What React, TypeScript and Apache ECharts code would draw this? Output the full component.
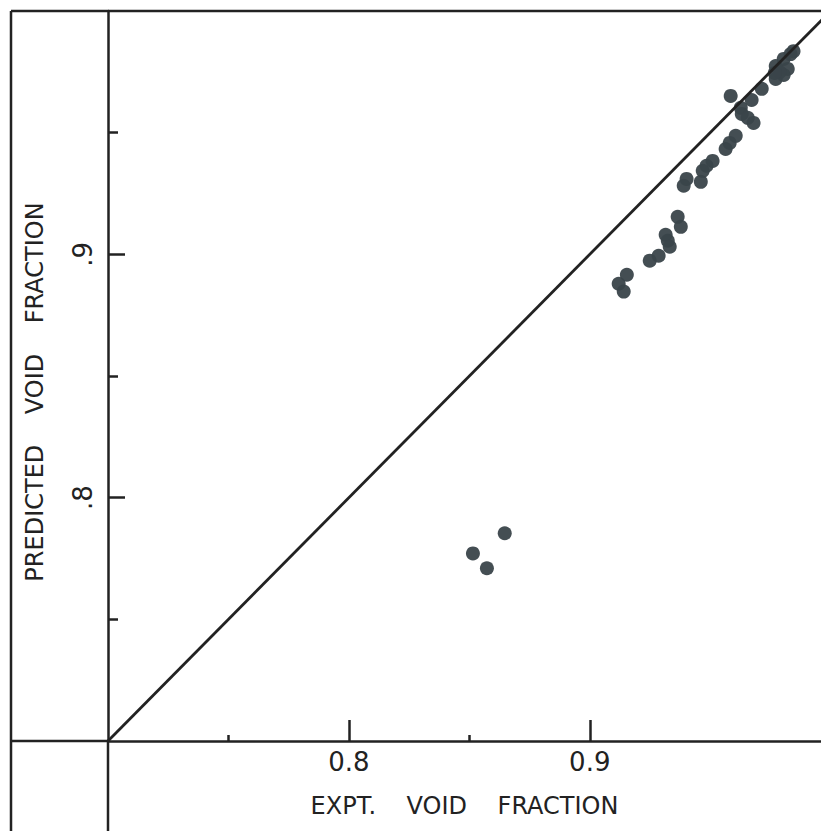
import React, { useEffect, useRef } from "react";
import * as echarts from "echarts";

// Experimental void fraction (x) vs predicted void fraction (y)
const exptVoid = [
  0.912, 0.9141, 0.9154, 0.9249, 0.9286, 0.9315, 0.9324, 0.9332, 0.9365, 0.9378,
  0.939, 0.9402, 0.9461, 0.9469, 0.9485, 0.951, 0.9564, 0.9581, 0.9606, 0.9585,
  0.9627, 0.9631, 0.9656, 0.968, 0.9672, 0.9714, 0.9772, 0.9805, 0.9834, 0.9822,
  0.9772, 0.9805, 0.9788, 0.9846, 0.9768, 0.8515, 0.8573, 0.8647,
];
const predictedVoid = [
  0.8879, 0.8847, 0.8916, 0.8974, 0.8994, 0.908, 0.9056, 0.9031, 0.9154, 0.9113,
  0.9282, 0.931, 0.9298, 0.9343, 0.9364, 0.9384, 0.9433, 0.9458, 0.9487, 0.9651,
  0.9602, 0.9577, 0.9561, 0.954, 0.9634, 0.968, 0.9774, 0.9803, 0.9823, 0.9762,
  0.9721, 0.9737, 0.9749, 0.9835, 0.9745, 0.7771, 0.771, 0.7854,
];
// Line of perfect agreement
const parityX = [0.7, 1.0];
const parityY = [0.7, 1.0];

const xMajorTicks = [0.8, 0.9];
const xMinorTicks = [0.75, 0.85];
const yMajorTicks = [0.8, 0.9];
const yMinorTicks = [0.75, 0.85, 0.95];

const X_MIN = 0.7;
const X_MAX = 0.996;
const Y_MIN = 0.7;
const Y_MAX = 1.0;

const INK = "#222222";
const DOT = "#3a444a";
const FONT = "DejaVu Sans";

export default function App() {
  const ref = useRef<HTMLDivElement>(null);

  useEffect(() => {
    if (!ref.current) return;
    const chart = echarts.init(ref.current, undefined, { renderer: "svg" });

    const points = exptVoid.map((x, i) => [x, predictedVoid[i]]);
    const parity = parityX.map((x, i) => [x, parityY[i]]);

    const axisLine = { show: true, lineStyle: { color: INK, width: 2.5 } };

    chart.setOption({
      animation: false,
      backgroundColor: "#ffffff",
      grid: { left: 108, right: 0, top: 11, bottom: 90, containLabel: false },
      xAxis: [
        {
          type: "value",
          min: X_MIN,
          max: X_MAX,
          position: "bottom",
          axisLine,
          axisTick: {
            show: true,
            inside: true,
            length: 21,
            customValues: xMajorTicks,
            lineStyle: { color: INK, width: 2.5 },
          },
          axisLabel: {
            show: true,
            customValues: xMajorTicks,
            formatter: (v: number) => v.toFixed(1),
            margin: 8,
            color: "#222",
            fontFamily: FONT,
            fontSize: 26,
          },
          splitLine: { show: false },
          name: "EXPT.    VOID    FRACTION",
          nameLocation: "middle",
          nameGap: 53,
          nameTextStyle: { color: "#222", fontFamily: FONT, fontSize: 24 },
        },
        {
          type: "value",
          min: X_MIN,
          max: X_MAX,
          position: "bottom",
          axisLine: { show: false },
          axisTick: {
            show: true,
            inside: true,
            length: 6,
            customValues: xMinorTicks,
            lineStyle: { color: INK, width: 2.5 },
          },
          axisLabel: { show: false },
          splitLine: { show: false },
        },
      ],
      yAxis: [
        {
          type: "value",
          min: Y_MIN,
          max: Y_MAX,
          position: "left",
          axisLine,
          axisTick: {
            show: true,
            inside: true,
            length: 17,
            customValues: yMajorTicks,
            lineStyle: { color: INK, width: 2.5 },
          },
          axisLabel: {
            show: true,
            customValues: yMajorTicks,
            formatter: (v: number) => v.toFixed(1).replace(/^0/, ""),
            rotate: 90,
            margin: 12,
            color: "#222",
            fontFamily: FONT,
            fontSize: 26,
          },
          splitLine: { show: false },
          name: "PREDICTED    VOID    FRACTION",
          nameLocation: "middle",
          nameRotate: 90,
          nameGap: 61,
          nameTextStyle: {
            color: "#222",
            fontFamily: FONT,
            fontSize: 24,
            padding: [0, 32, 0, 0],
          },
        },
        {
          type: "value",
          min: Y_MIN,
          max: Y_MAX,
          position: "left",
          axisLine: { show: false },
          axisTick: {
            show: true,
            inside: true,
            length: 10,
            customValues: yMinorTicks,
            lineStyle: { color: INK, width: 2.5 },
          },
          axisLabel: { show: false },
          splitLine: { show: false },
        },
      ],
      graphic: [
        // outer frame (left and top) and axis-line extensions of the original drawing
        { type: "line", shape: { x1: 11, y1: 11, x2: 11, y2: 831 }, style: { stroke: INK, lineWidth: 2.5 }, silent: true },
        { type: "line", shape: { x1: 11, y1: 11, x2: 821, y2: 11 }, style: { stroke: INK, lineWidth: 2.5 }, silent: true },
        { type: "line", shape: { x1: 11, y1: 741, x2: 108, y2: 741 }, style: { stroke: INK, lineWidth: 2.5 }, silent: true },
        { type: "line", shape: { x1: 108, y1: 741, x2: 108, y2: 831 }, style: { stroke: INK, lineWidth: 2.5 }, silent: true },
      ],
      series: [
        {
          type: "line",
          data: parity,
          xAxisIndex: 0,
          yAxisIndex: 0,
          symbol: "none",
          clip: true,
          silent: true,
          lineStyle: { color: INK, width: 2.8 },
        },
        {
          type: "scatter",
          data: points,
          xAxisIndex: 0,
          yAxisIndex: 0,
          symbol: "circle",
          symbolSize: 14,
          itemStyle: { color: DOT, opacity: 0.95 },
        },
      ],
    });

    return () => chart.dispose();
  }, []);

  return (
    <div
      ref={ref}
      style={{ position: "fixed", left: 0, top: 0, width: 821, height: 831, background: "#fff" }}
    />
  );
}
